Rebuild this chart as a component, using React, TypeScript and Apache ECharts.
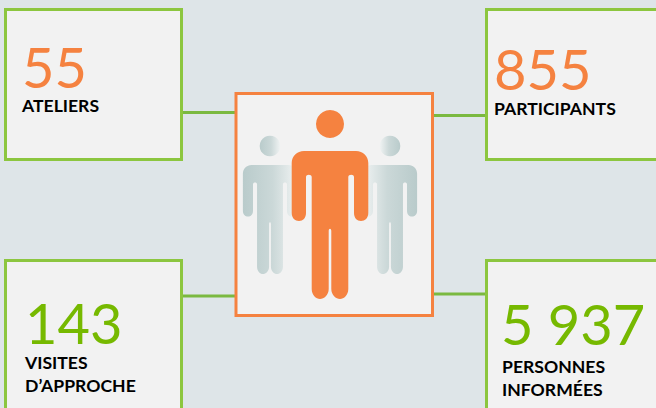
import React, { useEffect, useRef } from "react";
import * as echarts from "echarts";

// Figures shown in the four boxes, clockwise from the top left
const counts = ["55", "855", "5 937", "143"];
const captions = [["ATELIERS"], ["PARTICIPANTS"], ["PERSONNES", "INFORMÉES"], ["VISITES", "D’APPROCHE"]];

const ORANGE = "#F58240";
const LIME = "#76B900";
const FRAME = "#8CC63F";
const WIRE = "#7AB940";
const PANEL = "#F2F2F2";
const BACKDROP = "#DEE5E8";
const FONT = "Lato, Carlito, sans-serif";

// Person silhouette without the head; origin is the top centre of the shoulders
const BODY =
  "M-26 0 L26 0 C33 0 38.3 5 38.3 12 L38.3 62 C38.3 67 35 70 31 70 C27 70 24 67 24 62 L24 26 C24 23 18.3 23 18.3 26 " +
  "L18.3 138 C18.3 144 14 148 10 148 C6 148 1.3 144 1.3 138 L1.3 80 C1.3 77 -1.3 77 -1.3 80 L-1.3 138 " +
  "C-1.3 144 -6 148 -10 148 C-14 148 -18.3 144 -18.3 138 L-18.3 26 C-18.3 23 -24 23 -24 26 L-24 62 " +
  "C-24 67 -27 70 -31 70 C-35 70 -38.3 67 -38.3 62 L-38.3 12 C-38.3 5 -33 0 -26 0 Z";
echarts.graphic.registerShape("personBody", echarts.graphic.extendPath(BODY, {}) as any);

const sheen = (flip: boolean) => ({
  type: "linear",
  x: 0,
  y: 0,
  x2: 1,
  y2: 0,
  colorStops: flip
    ? [
        { offset: 0, color: "#F0F3F3" },
        { offset: 0.45, color: "#CBD8D8" },
        { offset: 1, color: "#B9CBCB" },
      ]
    : [
        { offset: 0, color: "#B9CBCB" },
        { offset: 0.55, color: "#CBD8D8" },
        { offset: 1, color: "#F0F3F3" },
      ],
});

function box(x: number, y: number, w: number, h: number) {
  return {
    type: "rect",
    shape: { x, y, width: w, height: h },
    style: { fill: PANEL, stroke: FRAME, lineWidth: 3 },
  };
}

function wire(x1: number, x2: number, y: number) {
  return {
    type: "line",
    shape: { x1, y1: y, x2, y2: y },
    style: { stroke: WIRE, lineWidth: 3 },
  };
}

function number(text: string, x: number, y: number, fill: string) {
  return {
    type: "text",
    x,
    y,
    style: { text, fill, font: `400 56px ${FONT}`, lineHeight: 44, textAlign: "left", textVerticalAlign: "middle" },
  };
}

function caption(text: string, x: number, y: number) {
  return {
    type: "text",
    x,
    y,
    style: { text, fill: "#000000", font: `700 17.6px ${FONT}`, lineHeight: 18, textAlign: "left", textVerticalAlign: "middle" },
  };
}

function person(cx: number, top: number, scaleX: number, scaleY: number, headY: number, headR: number, fill: any) {
  return [
    { type: "circle", shape: { cx, cy: headY, r: headR }, style: { fill } },
    { type: "personBody", x: cx, y: top, scaleX, scaleY, style: { fill } },
  ];
}

export default function App() {
  const host = useRef<HTMLDivElement>(null);

  useEffect(() => {
    document.body.style.margin = "0";
    const chart = echarts.init(host.current!, null, { renderer: "svg" });
    chart.setOption({
      animation: false,
      backgroundColor: BACKDROP,
      graphic: {
        elements: [
          wire(182, 236, 112.5),
          wire(433, 486, 115.5),
          wire(182, 236, 296),
          wire(433, 486, 294),
          box(5.5, 9.5, 176, 150),
          box(486.5, 9.5, 200, 150),
          box(5.5, 260.5, 176, 200),
          box(486.5, 260.5, 200, 200),
          { type: "rect", shape: { x: 236, y: 93.5, width: 196.5, height: 222 }, style: { fill: PANEL, stroke: ORANGE, lineWidth: 3 } },
          ...person(270, 165, 0.708, 0.737, 146, 10.3, sheen(false)),
          ...person(390, 165, 0.708, 0.737, 146, 10.3, sheen(true)),
          ...person(330, 151, 1, 1, 124, 14, ORANGE),
          number(counts[0], 22, 66, ORANGE),
          caption(captions[0][0], 22, 105),
          number(counts[1], 494, 68, ORANGE),
          caption(captions[1][0], 494, 108),
          number(counts[2], 501, 323, LIME),
          caption(captions[2][0], 502, 366),
          caption(captions[2][1], 502, 389),
          number(counts[3], 25, 322, LIME),
          caption(captions[3][0], 25, 362),
          caption(captions[3][1], 25, 385),
        ],
      },
    });
    return () => chart.dispose();
  }, []);

  return <div ref={host} style={{ position: "absolute", left: 0, top: 0, width: 656, height: 408 }} />;
}
